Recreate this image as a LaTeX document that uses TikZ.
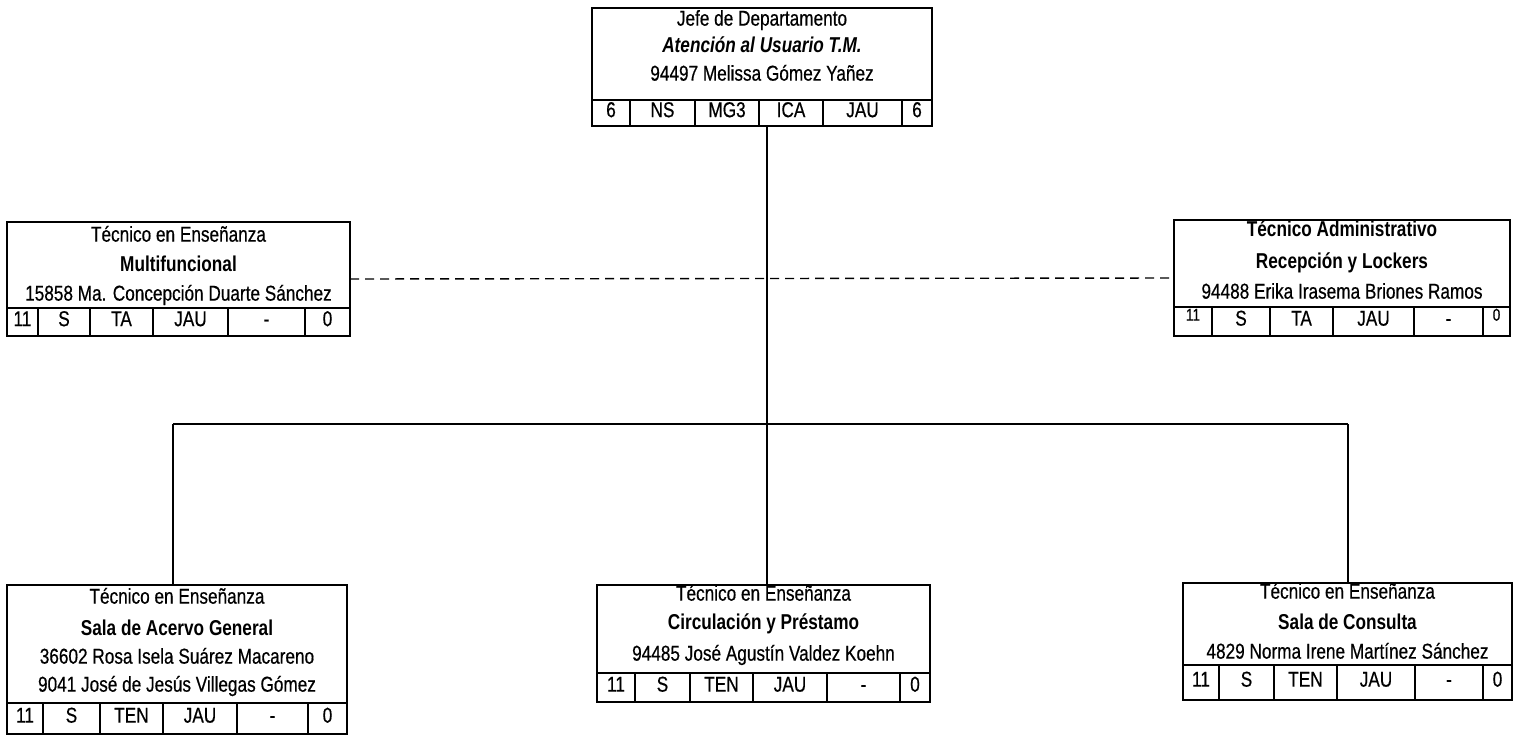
\documentclass[tikz,border=0pt]{standalone}
\usepackage{fontspec}
\setmainfont{Liberation Sans}[FakeStretch=0.8, UprightFeatures={FakeBold=0.5}]
\newcommand\smup[1]{\raisebox{5pt}{\fontsize{17}{17}\selectfont #1}}
\newcommand\rowcells[6]{% name, xleft, xright, ytop, ybottom, list a/b/t
  \draw[cell] (#2,#4) -- (#3,#4);
  \foreach \a/\b/\t [count=\i] in {#6} {
    \draw[cell] (\b,#4) -- (\b,#5);
    \node[txt] (#1c\i) at ({(\a+\b)/2},{(#4+#5)/2+1.5}) {\t};
  }}
\begin{document}
\begin{tikzpicture}[x=1pt,y=-1pt,
  box/.style={draw, line width=1.8pt, inner sep=0pt, outer sep=0pt},
  cell/.style={line width=1.3pt},
  conn/.style={line width=1.6pt},
  hconn/.style={line width=2.6pt},
  dashline/.style={line width=1.4pt, dash pattern=on 9pt off 6pt},
  txt/.style={inner sep=0pt, anchor=mid, font=\fontsize{21.5}{23}\selectfont},
  btxt/.style={txt, font=\fontsize{21.5}{23}\selectfont\bfseries},
  bitxt/.style={txt, font=\fontsize{21.5}{23}\selectfont\bfseries\itshape}]
\useasboundingbox (0,0) rectangle (1514,734);

% top box
\node[box, minimum width=340pt, minimum height=118pt] (top) at (762,67) {};
\node[txt] (topt1) at (762,23) {Jefe de Departamento};
\node[bitxt] (topt2) at (762,50) {Atención al Usuario T.M.};
\node[txt] (topt3) at (762,78) {94497 Melissa Gómez Yañez};
\rowcells{top}{592}{932}{100}{126}{592/630/6, 630/695/NS, 695/759/MG3, 759/823/ICA, 823/902/JAU, 902/932/6}

% middle left box
\node[box, minimum width=343pt, minimum height=114pt] (ml) at (178.5,279) {};
\node[txt] (mlt1) at (178.5,239) {Técnico en Enseñanza};
\node[btxt] (mlt2) at (178.5,269) {Multifuncional};
\node[txt] (mlt3) at (178.5,298) {15858 Ma. Concepción Duarte Sánchez};
\rowcells{ml}{7}{350}{308}{336}{7/38/11, 38/90/S, 90/153/TA, 153/228/JAU, 228/305/-, 305/350/0}

% middle right box
\node[box, minimum width=336pt, minimum height=116pt] (mr) at (1342,278) {};
\node[btxt] (mrt1) at (1342,234) {Técnico Administrativo};
\node[btxt] (mrt2) at (1342,266) {Recepción y Lockers};
\node[txt] (mrt3) at (1342,296) {94488 Erika Irasema Briones Ramos};
\rowcells{mr}{1174}{1510}{307}{336}{1174/1212/\smup{11}, 1212/1270/S, 1270/1333/TA, 1333/1414/JAU, 1414/1483/-, 1483/1510/\smup{0}}

% bottom left box
\node[box, minimum width=340pt, minimum height=149pt] (bl) at (177,659.5) {};
\node[txt] (blt1) at (177,601) {Técnico en Enseñanza};
\node[btxt] (blt2) at (177,633) {Sala de Acervo General};
\node[txt] (blt3) at (177,661) {36602 Rosa Isela Suárez Macareno};
\node[txt] (blt4) at (177,689) {9041 José de Jesús Villegas Gómez};
\rowcells{bl}{7}{347}{703}{734}{7/43/11, 43/100/S, 100/163/TEN, 163/237/JAU, 237/308/-, 308/347/0}

% bottom center box
\node[box, minimum width=333pt, minimum height=117pt] (cb) at (763.5,643.5) {};
\node[txt] (cbt1) at (763.5,598) {Técnico en Enseñanza};
\node[btxt] (cbt2) at (763.5,627) {Circulación y Préstamo};
\node[txt] (cbt3) at (763.5,658) {94485 José Agustín Valdez Koehn};
\rowcells{cb}{597}{930}{673}{702}{597/635/11, 635/690/S, 690/753/TEN, 753/827/JAU, 827/900/-, 900/930/0}

% bottom right box
\node[box, minimum width=329pt, minimum height=117pt] (br) at (1347.5,641.5) {};
\node[txt] (brt1) at (1347.5,596) {Técnico en Enseñanza};
\node[btxt] (brt2) at (1347.5,627) {Sala de Consulta};
\node[txt] (brt3) at (1347.5,656) {4829 Norma Irene Martínez Sánchez};
\rowcells{br}{1183}{1512}{665}{700}{1183/1219/11, 1219/1274/S, 1274/1337/TEN, 1337/1415/JAU, 1415/1483/-, 1483/1512/0}

% connectors
\coordinate (hl) at (173,424);
\coordinate (hr) at (1348,424);
\draw[conn] ([xshift=5pt]top.south) -- ([xshift=3.5pt]cb.north);
\draw[hconn] (hl) -- (hr);
\draw[conn] (hl) -- (hl |- bl.north);
\draw[conn] (hr) -- (hr |- br.north);
\draw[dashline] (ml.east) -- (mr.west);
\end{tikzpicture}
\end{document}
